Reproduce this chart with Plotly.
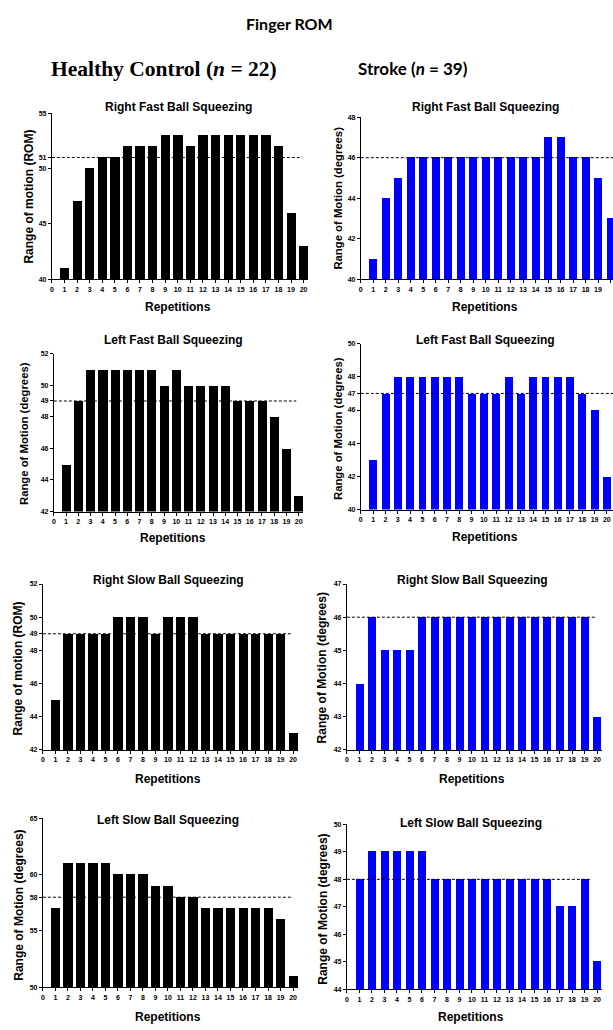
import plotly.graph_objects as go

W, H = 613, 1030

reps = list(range(1, 21))
x_ticks = list(range(0, 21))

# Healthy control
hc_right_fast = [41, 47, 50, 51, 51, 52, 52, 52, 53, 53, 52, 53, 53, 53, 53, 53, 53, 52, 46, 43]
hc_left_fast = [45, 49, 51, 51, 51, 51, 51, 51, 50, 51, 50, 50, 50, 50, 49, 49, 49, 48, 46, 43]
hc_right_slow = [45, 49, 49, 49, 49, 50, 50, 50, 49, 50, 50, 50, 49, 49, 49, 49, 49, 49, 49, 43]
hc_left_slow = [57, 61, 61, 61, 61, 60, 60, 60, 59, 59, 58, 58, 57, 57, 57, 57, 57, 57, 56, 51]
# Stroke
st_right_fast = [41, 44, 45, 46, 46, 46, 46, 46, 46, 46, 46, 46, 46, 46, 47, 47, 46, 46, 45, 43]
st_left_fast = [43, 47, 48, 48, 48, 48, 48, 48, 47, 47, 47, 48, 47, 48, 48, 48, 48, 47, 46, 42]
st_right_slow = [44, 46, 45, 45, 45, 46, 46, 46, 46, 46, 46, 46, 46, 46, 46, 46, 46, 46, 46, 43]
st_left_slow = [48, 49, 49, 49, 49, 49, 48, 48, 48, 48, 48, 48, 48, 48, 48, 48, 47, 47, 48, 45]

# mean (dashed) reference lines
hc_means = [51, 49, 49, 58]
st_means = [46, 47, 46, 48]

# y tick values
hc_yticks = [[40, 45, 50, 51, 55], [42, 44, 46, 48, 49, 50, 52], [42, 44, 46, 48, 49, 50, 52], [50, 55, 58, 60, 65]]
st_yticks = [[40, 42, 44, 46, 48], [40, 42, 44, 46, 47, 48, 50], [42, 43, 44, 45, 46, 47], [44, 45, 46, 47, 48, 49, 50]]
hc_yranges = [[40, 55], [42, 52], [42, 52], [50, 65]]
st_yranges = [[40, 48], [40, 50], [42, 47], [44, 50]]

titles = ["Right Fast Ball Squeezing", "Left Fast Ball Squeezing",
          "Right Slow Ball Squeezing", "Left Slow Ball Squeezing"]
hc_ytitles = ["Range of motion (ROM)", "Range of Motion (degrees)",
              "Range of motion (ROM)", "Range of Motion (degrees)"]
st_ytitles = ["Range of Motion (degrees)"] * 4

hc_series = [hc_right_fast, hc_left_fast, hc_right_slow, hc_left_slow]
st_series = [st_right_fast, st_left_fast, st_right_slow, st_left_slow]

# layout (pixels): plot box [left, right, top, bottom], x range max, title pos, ytitle pos, xtitle pos, mean line end
hc_layout = [
    dict(box=[50, 307, 110, 277], xmax=20.35, tpos=(177, 104), ypos=(27, 194), xpos=(177, 305), lend=19.9, ytsize=12),
    dict(box=[52, 302, 352, 511], xmax=20.35, tpos=(172, 338), ypos=(22, 432), xpos=(172, 538), lend=19.8, ytsize=11.3),
    dict(box=[41, 297, 584, 751], xmax=20.4, tpos=(167, 580), ypos=(17, 669), xpos=(167, 780), lend=19.9, ytsize=12),
    dict(box=[41, 297, 820, 990], xmax=20.4, tpos=(167, 822), ypos=(17, 907), xpos=(167, 1020), lend=20.0, ytsize=12),
]
st_layout = [
    dict(box=[360, 613, 114, 277], xmax=20.2, tpos=(485, 104), ypos=(337, 195), xpos=(485, 305), lend=20.5, ytsize=11.3),
    dict(box=[360, 613, 342, 509], xmax=20.5, tpos=(485, 338), ypos=(337, 427), xpos=(485, 537), lend=20.6, ytsize=11.3),
    dict(box=[346, 602, 584, 751], xmax=20.4, tpos=(472, 580), ypos=(322, 668), xpos=(472, 780), lend=19.9, ytsize=12),
    dict(box=[346, 602, 826, 992], xmax=20.4, tpos=(471, 825), ypos=(322, 911), xpos=(471, 1020), lend=19.6, ytsize=12),
]

panels = []
for i in range(4):
    panels.append(dict(y=hc_series[i], mean=hc_means[i], yticks=hc_yticks[i], yrange=hc_yranges[i],
                       title=titles[i], ytitle=hc_ytitles[i], color="#000000", width=0.74, **hc_layout[i]))
for i in range(4):
    panels.append(dict(y=st_series[i], mean=st_means[i], yticks=st_yticks[i], yrange=st_yranges[i],
                       title=titles[i], ytitle=st_ytitles[i], color="#0000FF", width=0.64, **st_layout[i]))

fig = go.Figure()
annotations = []
AX_FONT = dict(family="Liberation Sans, Arial", size=7, color="black", weight="bold")
LBL_FONT = dict(family="Liberation Sans, Arial", size=12, color="black", weight="bold")


def px(x):
    return x / W


def py(y):
    return 1 - y / H


for k, p in enumerate(panels, start=1):
    xa = "x" if k == 1 else f"x{k}"
    ya = "y" if k == 1 else f"y{k}"
    fig.add_trace(go.Bar(x=reps, y=p["y"], marker=dict(color=p["color"], line=dict(width=0)),
                         width=p["width"], xaxis=xa, yaxis=ya, showlegend=False))
    fig.add_trace(go.Scatter(x=[0, p["lend"]], y=[p["mean"], p["mean"]], mode="lines",
                             line=dict(color="black", width=1, dash="3px,2px"),
                             xaxis=xa, yaxis=ya, showlegend=False))
    l, r, t, b = p["box"]
    xkey = "xaxis" if k == 1 else f"xaxis{k}"
    ykey = "yaxis" if k == 1 else f"yaxis{k}"
    fig.layout[xkey] = dict(domain=[px(l), min(px(r), 1)], range=[0, p["xmax"]], anchor=ya,
                            tickvals=x_ticks, ticktext=[str(v) for v in x_ticks],
                            showline=True, linecolor="black", linewidth=1, ticks="outside",
                            ticklen=3, tickwidth=1, tickcolor="black", tickfont=AX_FONT,
                            showgrid=False, zeroline=False, fixedrange=True)
    fig.layout[ykey] = dict(domain=[py(b), py(t)], range=p["yrange"], anchor=xa,
                            tickvals=p["yticks"], ticktext=[str(v) for v in p["yticks"]],
                            showline=True, linecolor="black", linewidth=1, ticks="outside",
                            ticklen=3, tickwidth=1, tickcolor="black", tickfont=AX_FONT,
                            showgrid=False, zeroline=False, fixedrange=True)
    annotations.append(dict(text=p["title"], x=px(p["tpos"][0]), y=py(p["tpos"][1]), xref="paper", yref="paper",
                            xanchor="center", yanchor="middle", showarrow=False, font=LBL_FONT))
    annotations.append(dict(text="Repetitions", x=px(p["xpos"][0]), y=py(p["xpos"][1]), xref="paper", yref="paper",
                            xanchor="center", yanchor="middle", showarrow=False, font=LBL_FONT))
    annotations.append(dict(text=p["ytitle"], x=px(p["ypos"][0]), y=py(p["ypos"][1]), xref="paper", yref="paper",
                            xanchor="center", yanchor="middle", showarrow=False, textangle=-90,
                            font=dict(family="Liberation Sans, Arial", size=p["ytsize"], color="black", weight="bold")))

annotations.append(dict(text="Finger ROM", x=px(288), y=py(20), xref="paper", yref="paper",
                        xanchor="center", yanchor="middle", showarrow=False,
                        font=dict(family="Lato, Open Sans", size=16, color="black", weight="bold")))
annotations.append(dict(text="Healthy Control (<i>n</i> = 22)", x=px(163), y=py(65), xref="paper", yref="paper",
                        xanchor="center", yanchor="middle", showarrow=False,
                        font=dict(family="Liberation Serif, Times New Roman", size=21.5, color="black", weight="bold")))
annotations.append(dict(text="Stroke (<i>n</i> = 39)", x=px(412), y=py(65), xref="paper", yref="paper",
                        xanchor="center", yanchor="middle", showarrow=False,
                        font=dict(family="Lato, Open Sans", size=17, color="black", weight="bold")))

fig.update_layout(width=W, height=H, margin=dict(l=0, r=0, t=0, b=0),
                  paper_bgcolor="white", plot_bgcolor="white", bargap=0,
                  annotations=annotations, showlegend=False)

fig.write_html("out.html", config={"displayModeBar": False},
               post_script="document.body.style.margin='0';document.body.style.overflow='hidden';")
